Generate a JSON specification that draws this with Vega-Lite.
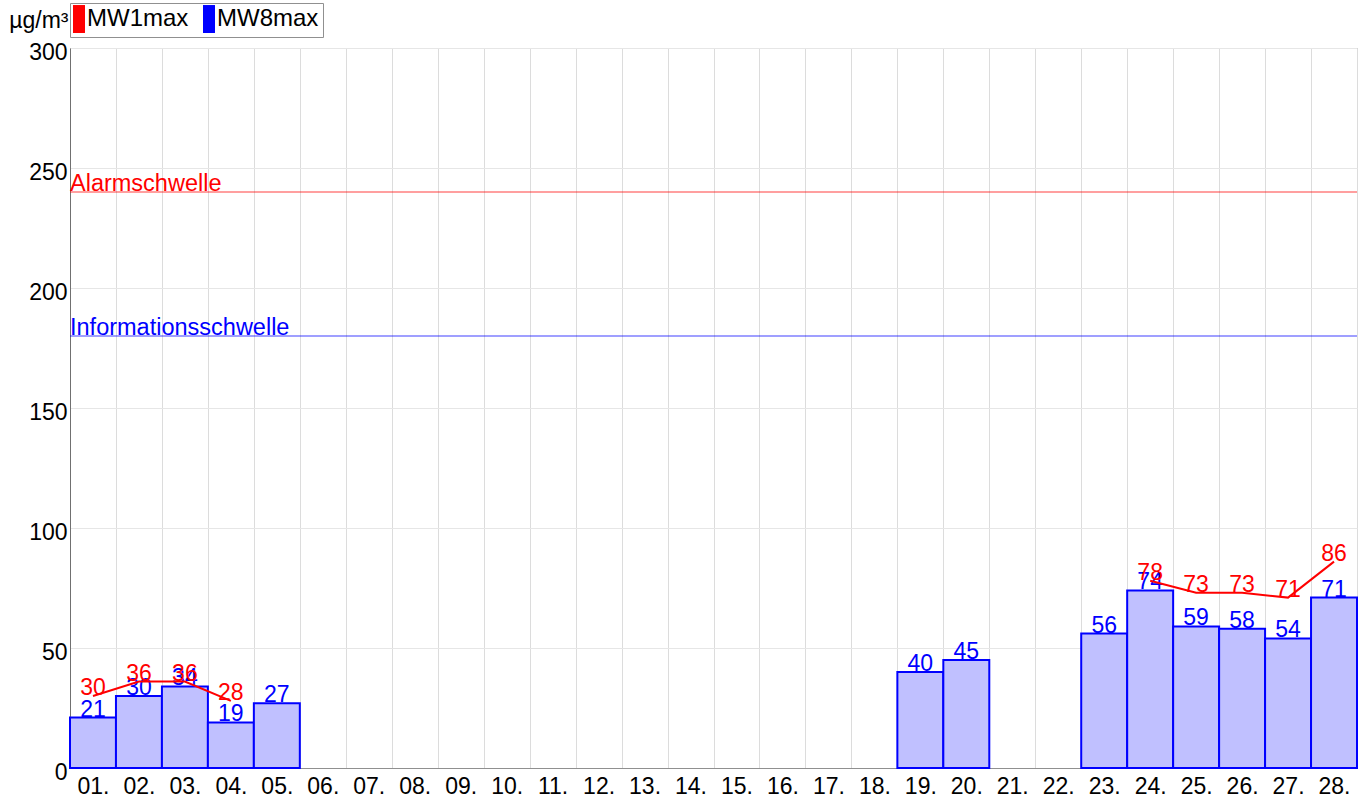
{
  "$schema": "https://vega.github.io/schema/vega-lite/v6.json",
  "width": 1287,
  "height": 720,
  "autosize": "none",
  "padding": {"left": 70, "top": 48, "right": 10, "bottom": 35},
  "background": "white",
  "config": {"font": "Liberation Sans", "view": {"stroke": "#909090", "strokeWidth": 1}},
  "datasets": {
    "days": [
      {"day": "01.", "mw1": 30, "mw8": 21},
      {"day": "02.", "mw1": 36, "mw8": 30},
      {"day": "03.", "mw1": 36, "mw8": 34},
      {"day": "04.", "mw1": 28, "mw8": 19},
      {"day": "05.", "mw1": null, "mw8": 27},
      {"day": "06.", "mw1": null, "mw8": null},
      {"day": "07.", "mw1": null, "mw8": null},
      {"day": "08.", "mw1": null, "mw8": null},
      {"day": "09.", "mw1": null, "mw8": null},
      {"day": "10.", "mw1": null, "mw8": null},
      {"day": "11.", "mw1": null, "mw8": null},
      {"day": "12.", "mw1": null, "mw8": null},
      {"day": "13.", "mw1": null, "mw8": null},
      {"day": "14.", "mw1": null, "mw8": null},
      {"day": "15.", "mw1": null, "mw8": null},
      {"day": "16.", "mw1": null, "mw8": null},
      {"day": "17.", "mw1": null, "mw8": null},
      {"day": "18.", "mw1": null, "mw8": null},
      {"day": "19.", "mw1": null, "mw8": 40},
      {"day": "20.", "mw1": null, "mw8": 45},
      {"day": "21.", "mw1": null, "mw8": null},
      {"day": "22.", "mw1": null, "mw8": null},
      {"day": "23.", "mw1": null, "mw8": 56},
      {"day": "24.", "mw1": 78, "mw8": 74},
      {"day": "25.", "mw1": 73, "mw8": 59},
      {"day": "26.", "mw1": 73, "mw8": 58},
      {"day": "27.", "mw1": 71, "mw8": 54},
      {"day": "28.", "mw1": 86, "mw8": 71}
    ],
    "alarm": [{"label": "Alarmschwelle", "v": 240, "day": "01."}],
    "info": [{"label": "Informationsschwelle", "v": 180, "day": "01."}]
  },
  "layer": [
    {
      "data": {"name": "days"},
      "mark": {"type": "bar", "fill": "#c0c0ff", "stroke": "#0000ff", "strokeWidth": 2},
      "encoding": {
        "x": {
          "field": "day", "type": "ordinal", "sort": null,
          "scale": {"type": "band", "paddingInner": 0, "paddingOuter": 0},
          "axis": {"title": null, "labelAngle": 0, "labelFontSize": 23, "labelColor": "black", "labelPadding": 7, "ticks": false, "grid": true, "tickBand": "extent", "gridColor": "#dcdcdc", "domainColor": "#909090"}
        },
        "y": {
          "field": "mw8", "type": "quantitative",
          "scale": {"domain": [0, 300], "nice": false, "zero": true},
          "axis": {"values": [0, 50, 100, 150, 200, 250, 300], "labelFontSize": 23, "labelColor": "black", "labelPadding": 3, "labelOffset": 4, "ticks": false, "gridColor": "#e6e6e6", "domainColor": "#707070", "title": "µg/m³", "titleAngle": 0, "titleFontSize": 23, "titleFontWeight": "normal", "titleColor": "black", "titleX": -2, "titleY": -21, "titleAlign": "right", "titleBaseline": "alphabetic"}
        }
      }
    },
    {
      "data": {"name": "days"},
      "mark": {"type": "text", "color": "#0000ff", "fontSize": 23, "baseline": "alphabetic", "dy": -1},
      "encoding": {
        "x": {"field": "day", "type": "ordinal", "sort": null},
        "y": {"field": "mw8", "type": "quantitative"},
        "text": {"field": "mw8", "type": "quantitative"}
      }
    },
    {
      "data": {"name": "days"},
      "mark": {"type": "line", "strokeWidth": 2, "invalid": "break-paths-show-domains"},
      "encoding": {
        "x": {"field": "day", "type": "ordinal", "sort": null},
        "y": {"field": "mw1", "type": "quantitative"},
        "color": {
          "datum": "MW1max", "type": "nominal",
          "scale": {"domain": ["MW1max", "MW8max"], "range": ["#ff0000", "#0000ff"]},
          "legend": {
            "orient": "none", "legendX": 0, "legendY": -45, "direction": "horizontal", "title": null,
            "labelFontSize": 24, "labelColor": "black", "strokeColor": "#909090", "padding": 4,
            "symbolType": "M-2.17,-2.33H-0.17V2.33H-2.17Z", "symbolSize": 144, "symbolStrokeWidth": 0,
            "columnPadding": 13, "labelOffset": -11, "symbolOffset": 0,
            "encode": {"symbols": {"update": {"fill": {"scale": "color", "field": "value"}, "opacity": {"value": 1}}}}
          }
        }
      }
    },
    {
      "data": {"name": "days"},
      "mark": {"type": "text", "color": "#ff0000", "fontSize": 23, "baseline": "alphabetic", "dy": -1},
      "encoding": {
        "x": {"field": "day", "type": "ordinal", "sort": null},
        "y": {"field": "mw1", "type": "quantitative"},
        "text": {"field": "mw1", "type": "quantitative"}
      }
    },
    {
      "data": {"name": "alarm"},
      "mark": {"type": "rule", "color": "#ff0000", "opacity": 0.5, "strokeWidth": 1.5},
      "encoding": {"y": {"field": "v", "type": "quantitative"}}
    },
    {
      "data": {"name": "alarm"},
      "mark": {"type": "text", "color": "#ff0000", "fontSize": 23.5, "align": "left", "baseline": "alphabetic", "dy": -1},
      "encoding": {
        "x": {"field": "day", "type": "ordinal", "bandPosition": 0},
        "y": {"field": "v", "type": "quantitative"},
        "text": {"field": "label"}
      }
    },
    {
      "data": {"name": "info"},
      "mark": {"type": "rule", "color": "#0000ff", "opacity": 0.5, "strokeWidth": 1.5},
      "encoding": {"y": {"field": "v", "type": "quantitative"}}
    },
    {
      "data": {"name": "info"},
      "mark": {"type": "text", "color": "#0000ff", "fontSize": 23.5, "align": "left", "baseline": "alphabetic", "dy": -1},
      "encoding": {
        "x": {"field": "day", "type": "ordinal", "bandPosition": 0},
        "y": {"field": "v", "type": "quantitative"},
        "text": {"field": "label"}
      }
    }
  ]
}
